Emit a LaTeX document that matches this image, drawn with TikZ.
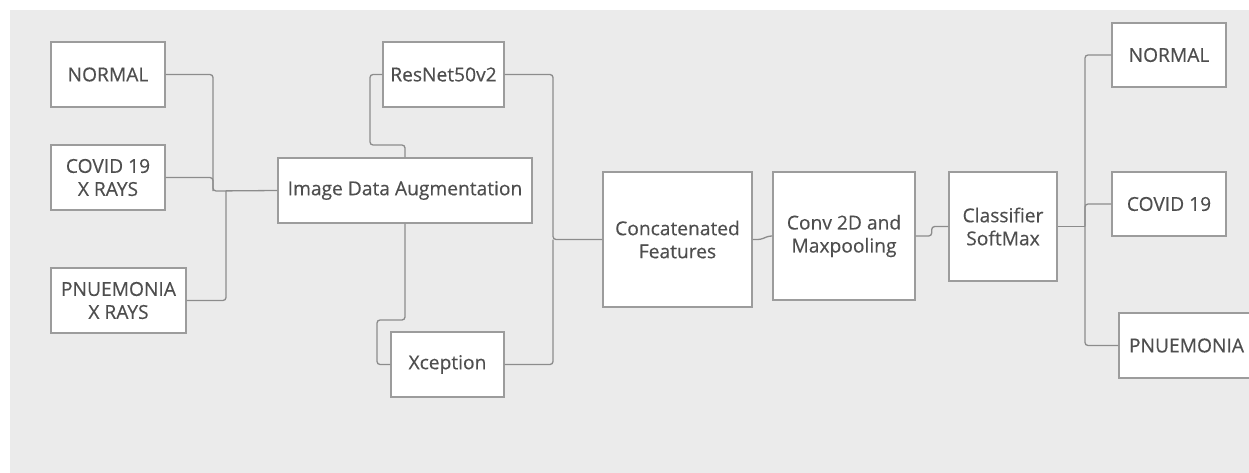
\documentclass[tikz,border=0pt]{standalone}
\usepackage{fontspec}
\setmainfont{Open Sans}[FakeBold=0.5]
\newfontfamily\boxfont{Open Sans}[FakeBold=0.35]
\usetikzlibrary{calc}
\definecolor{bg}{HTML}{EBEBEB}
\definecolor{boxline}{HTML}{9C9C9C}
\definecolor{conline}{HTML}{8C8C8C}
\definecolor{txt}{HTML}{4E4E4E}
\tikzset{
  blk/.style={draw=boxline, line width=1.4pt, fill=white, text=txt, align=center,
    inner sep=0pt, font=\boxfont\fontsize{19.2}{23}\selectfont},
  conn/.style={draw=conline, line width=1.3pt, rounded corners=3pt}
}
\begin{document}
\begin{tikzpicture}[x=1pt,y=-1pt]
\useasboundingbox (0,0) rectangle (1249,473);
\clip (0,0) rectangle (1249,473);
\fill[bg] (10,10) rectangle (1252,476);

% boxes
\node[blk, minimum width=114pt, minimum height=65pt] (nL1) at (108,74.5) {NORMAL};
\node[blk, minimum width=114pt, minimum height=65pt] (nL2) at (108,177.5) {COVID 19\\X RAYS};
\node[blk, minimum width=135pt, minimum height=65pt] (nL3) at (118.5,300.5) {PNUEMONIA\\X RAYS};
\node[blk, minimum width=254pt, minimum height=65pt] (aug) at (405,190.5) {Image Data Augmentation};
\node[blk, minimum width=121pt, minimum height=65pt] (res) at (443.5,74.5) {ResNet50v2};
\node[blk, minimum width=113pt, minimum height=65pt] (xcp) at (447.5,364.5) {Xception};
\node[blk, minimum width=149pt, minimum height=135pt] (cat) at (677.5,239.5) {Concatenated\\Features};
\node[blk, minimum width=142pt, minimum height=128pt] (conv) at (844,236) {Conv 2D and\\Maxpooling};
\node[blk, minimum width=108pt, minimum height=109pt] (cls) at (1003,226.5) {Classifier\\SoftMax};
\node[blk, minimum width=114pt, minimum height=64pt] (nR1) at (1169,55) {NORMAL};
\node[blk, minimum width=114pt, minimum height=64pt] (nR2) at (1169,204) {COVID 19};
\node[blk, minimum width=135pt, minimum height=65pt] (nR3) at (1186.5,345.5) {PNUEMONIA};

% junction points
\coordinate (j1) at (213,191);
\coordinate (j2) at (226,191);
\coordinate (r1) at (370,145);
\coordinate (x1) at (377,320);
\coordinate (c1) at (553,239.5);
\coordinate (k) at (1085,226.5);

% connectors
\draw[conn] (nL1.east) -| (j1) -- (aug.west);
\draw[conn] (nL2.east) -| (j1);
\draw[conn] (nL3.east) -| (j2);
\draw[conn] (aug.north) |- (r1) |- (res.west);
\draw[conn] (aug.south) |- (x1) |- (xcp.west);
\draw[conn] (res.east) -| (c1) -- (cat.west);
\draw[conn] (xcp.east) -| (c1);
\draw[conn] (cat.east) -- ++(8,0) -- ++(8,-3.5) -- (conv.west);
\draw[conn] (conv.east) -- ++(16,0) |- (cls.west);
\draw[conn] (cls.east) -- (k);
\draw[conn] (k) |- (nR1.west);
\draw[conn] (k) |- (nR2.west);
\draw[conn] (k) |- (nR3.west);
\end{tikzpicture}
\end{document}
